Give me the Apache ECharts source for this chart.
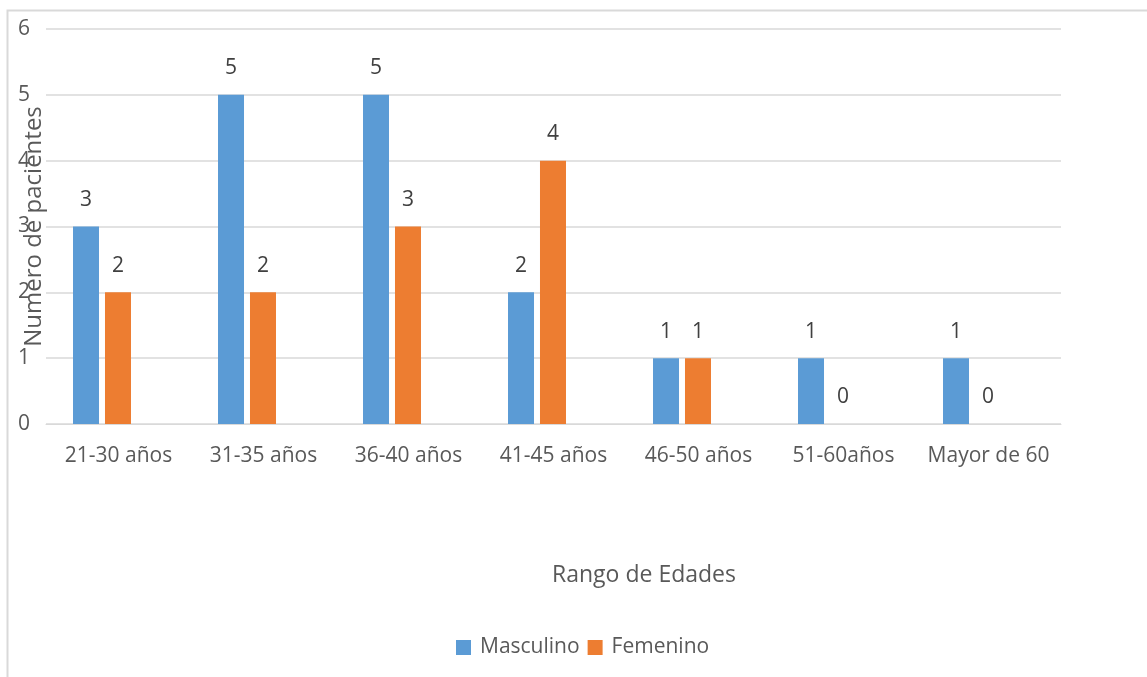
<!DOCTYPE html>
<html>
<head>
<meta charset="utf-8">
<script src="https://cdn.jsdelivr.net/npm/echarts@6/dist/echarts.min.js"></script>
<style>
  html, body { margin: 0; padding: 0; background: #fff; }
  #chart { width: 1147px; height: 677px; }
</style>
</head>
<body>
<div id="chart"></div>
<script>
// Age ranges and patient counts by sex
const categories = ['21-30 años', '31-35 años', '36-40 años', '41-45 años', '46-50 años', '51-60años', 'Mayor de 60'];
const masculino = [3, 5, 5, 2, 1, 1, 1];
const femenino = [2, 2, 3, 4, 1, 0, 0];
const yTicks = [0, 1, 2, 3, 4, 5, 6];

const FONT = '"Open Sans", "Noto Sans", sans-serif';
const GRID_LINE = '#d9d9d9';
const TEXT = '#595959';

const chart = echarts.init(document.getElementById('chart'), null, { renderer: 'canvas' });

const labelStyle = {
  show: true,
  position: 'top',
  distance: 16,
  color: '#404040',
  fontSize: 21,
  fontFamily: FONT
};

chart.setOption({
  animation: false,
  backgroundColor: '#fff',
  textStyle: { fontFamily: FONT },
  graphic: [{
    type: 'rect',
    shape: { x: 7.5, y: 10.5, width: 1160, height: 700 },
    style: { fill: 'none', stroke: '#d9d9d9', lineWidth: 2 },
    silent: true,
    z: -10
  }],
  grid: [
    // axes, gridlines and labels
    { left: 46, top: 29, width: 1015, height: 395, outerBoundsMode: 'none', containLabel: false },
    // bars (clusters sit slightly left of the label centres)
    { left: 29.5, top: 29, width: 1015, height: 395, outerBoundsMode: 'none', containLabel: false }
  ],
  legend: {
    data: ['Masculino', 'Femenino'],
    bottom: 14,
    left: 451,
    itemWidth: 15,
    itemHeight: 15,
    itemGap: 8,
    icon: 'rect',
    textStyle: { color: TEXT, fontSize: 21, fontFamily: FONT, padding: [0, 0, 0, 4] }
  },
  xAxis: [{
    type: 'category',
    gridIndex: 0,
    data: categories,
    axisTick: { show: false },
    axisLine: { show: true, lineStyle: { color: GRID_LINE } },
    axisLabel: { color: TEXT, fontSize: 21, fontFamily: FONT, margin: 22, interval: 0 },
    name: 'Rango de Edades',
    nameLocation: 'middle',
    nameGap: 140,
    nameMoveOverlap: false,
    nameTextStyle: { color: TEXT, fontSize: 23, fontFamily: FONT, padding: [0, 0, 0, 181] }
  }, {
    type: 'category',
    gridIndex: 1,
    data: categories,
    show: false
  }],
  yAxis: [{
    type: 'value',
    gridIndex: 0,
    min: yTicks[0],
    max: yTicks[yTicks.length - 1],
    interval: 1,
    axisLine: { show: false },
    axisTick: { show: false },
    axisLabel: { color: TEXT, fontSize: 21, fontFamily: FONT, margin: 16 },
    splitLine: { show: true, lineStyle: { color: GRID_LINE, width: 1.5 } },
    name: 'Numero de pacientes',
    nameLocation: 'middle',
    nameGap: 0,
    nameMoveOverlap: false,
    nameRotate: 90,
    nameTextStyle: { color: TEXT, fontSize: 24, fontFamily: FONT }
  }, {
    type: 'value',
    gridIndex: 1,
    min: yTicks[0],
    max: yTicks[yTicks.length - 1],
    interval: 1,
    show: false,
    splitLine: { show: false }
  }],
  series: [{
    name: 'Masculino',
    type: 'bar',
    xAxisIndex: 1,
    yAxisIndex: 1,
    data: masculino,
    barWidth: 26,
    barGap: '23%',
    itemStyle: { color: '#5b9bd5' },
    label: labelStyle
  }, {
    name: 'Femenino',
    type: 'bar',
    xAxisIndex: 1,
    yAxisIndex: 1,
    data: femenino,
    barWidth: 26,
    barGap: '23%',
    itemStyle: { color: '#ed7d31' },
    label: labelStyle
  }]
});
</script>
</body>
</html>
